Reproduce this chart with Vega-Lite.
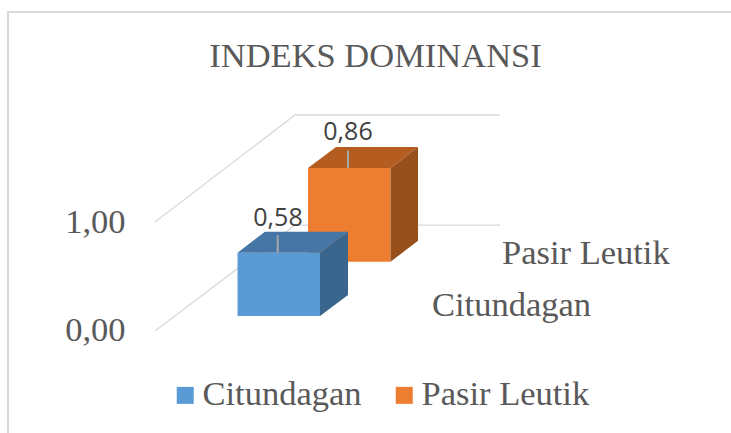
{
"$schema":"https://vega.github.io/schema/vega-lite/v6.json",
"width":731,"height":433,"padding":0,"autosize":{"type":"none"},
"background":"white",
"title":{"text":"INDEKS DOMINANSI","font":"Liberation Serif","fontSize":34.5,"fontWeight":"normal","color":"#595959","anchor":"middle","dx":10,"baseline":"alphabetic","offset":-101},
"config":{"view":{"stroke":null}},
"datasets":{
"frame":[{"px":8,"level":-0.936,"order":1},{"px":8,"level":2.927,"order":2},{"px":731,"level":2.927,"order":3}],
"grid":[
{"line":"0,00","px":155,"level":0},{"line":"0,00","px":295,"level":0.972},{"line":"0,00","px":500,"level":0.972},
{"line":"1,00","px":155,"level":1},{"line":"1,00","px":295,"level":1.982},{"line":"1,00","px":500,"level":1.982}],
"front":[
{"series":"Pasir Leutik","value":0.86,"px":308,"px2":390.5,"base":0.635,"top":1.495},
{"series":"Citundagan","value":0.58,"px":237.5,"px2":320,"base":0.138,"top":0.718}],
"side":[
{"series":"Pasir Leutik","px":390.5,"low":0.635,"high":1.495},{"series":"Pasir Leutik","px":418,"low":0.828,"high":1.688},
{"series":"Citundagan","px":320,"low":0.138,"high":0.718},{"series":"Citundagan","px":348,"low":0.331,"high":0.911}],
"topface":[
{"series":"Pasir Leutik","level":1.495,"left":308,"right":390.5},{"series":"Pasir Leutik","level":1.688,"left":336,"right":418},
{"series":"Citundagan","level":0.718,"left":237.5,"right":320},{"series":"Citundagan","level":0.911,"left":265,"right":348}],
"leader":[
{"series":"Pasir Leutik","px":348,"from":1.495,"to":1.655},
{"series":"Citundagan","px":277.7,"from":0.718,"to":0.88}],
"labels":[
{"label":"0,86","px":348,"level":1.826},
{"label":"0,58","px":278,"level":1.037}],
"cats":[
{"label":"Pasir Leutik","px":502,"level":0.615},
{"label":"Citundagan","px":432,"level":0.14}]
},
"layer":[
{"data":{"name":"frame"},"mark":{"type":"line","stroke":"#d9d9d9","strokeWidth":2},
 "encoding":{"x":{"field":"px","type":"quantitative","scale":{"domain":[0,731],"nice":false,"zero":false},"axis":null},
 "y":{"field":"level","type":"quantitative","scale":{"domain":[-0.936,3.037],"nice":false,"zero":false},
  "axis":{"values":[0,1],"format":".2f","labelExpr":"replace(datum.label,'.',',')","title":null,"grid":false,"domain":false,"ticks":false,"orient":"left","offset":-125,"labelPadding":0,"labelFont":"Liberation Serif","labelFontSize":34.5,"labelColor":"#595959"}},
 "order":{"field":"order"}}},
{"data":{"name":"grid"},"mark":{"type":"line","stroke":"#d9d9d9","strokeWidth":1.3},
 "encoding":{"x":{"field":"px","type":"quantitative"},"y":{"field":"level","type":"quantitative"},"detail":{"field":"line"}}},
{"data":{"name":"front"},"mark":{"type":"rect"},
 "encoding":{"x":{"field":"px","type":"quantitative"},"x2":{"field":"px2"},"y":{"field":"base","type":"quantitative"},"y2":{"field":"top"},
 "color":{"field":"series","type":"nominal","scale":{"domain":["Citundagan","Pasir Leutik"],"range":["#5b9bd5","#ed7d31"]},
  "legend":{"title":null,"orient":"none","legendX":168,"legendY":378,"direction":"horizontal","symbolType":"square","symbolSize":289,"symbolStrokeWidth":0,"labelFont":"Liberation Serif","labelFontSize":34.5,"labelColor":"#595959","labelOffset":0,"columnPadding":25,"labelLimit":300,"symbolOpacity":1}}}},
{"data":{"name":"side"},"mark":{"type":"area"},
 "encoding":{"x":{"field":"px","type":"quantitative"},"y":{"field":"low","type":"quantitative"},"y2":{"field":"high"},
 "color":{"field":"series","type":"nominal","scale":{"domain":["Citundagan","Pasir Leutik"],"range":["#3a668e","#974f1b"]},"legend":null}}},
{"data":{"name":"topface"},"mark":{"type":"area","orient":"horizontal"},
 "encoding":{"y":{"field":"level","type":"quantitative"},"x":{"field":"left","type":"quantitative"},"x2":{"field":"right"},
 "color":{"field":"series","type":"nominal","scale":{"domain":["Citundagan","Pasir Leutik"],"range":["#4576a5","#b55d20"]},"legend":null}}},
{"data":{"name":"leader"},"mark":{"type":"rule","stroke":"#a6a6a6","strokeWidth":2},
 "encoding":{"x":{"field":"px","type":"quantitative"},"y":{"field":"from","type":"quantitative"},"y2":{"field":"to"}}},
{"data":{"name":"labels"},"mark":{"type":"text","font":"Open Sans","fontSize":25,"color":"#404040","baseline":"middle","align":"center"},
 "encoding":{"x":{"field":"px","type":"quantitative"},"y":{"field":"level","type":"quantitative"},"text":{"field":"label"}}},
{"data":{"name":"cats"},"mark":{"type":"text","font":"Liberation Serif","fontSize":34.5,"color":"#595959","baseline":"alphabetic","align":"left"},
 "encoding":{"x":{"field":"px","type":"quantitative"},"y":{"field":"level","type":"quantitative"},"text":{"field":"label"}}}
],
"resolve":{"scale":{"color":"independent"}}
}
